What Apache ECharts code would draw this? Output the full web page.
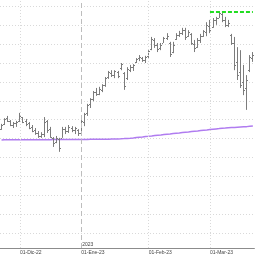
<!DOCTYPE html>
<html>
<head>
<meta charset="utf-8">
<script src="https://cdn.jsdelivr.net/npm/echarts@6/dist/echarts.min.js"></script>
<style>
  html, body { margin: 0; padding: 0; background: #fff; }
  #chart { width: 256px; height: 256px; }
</style>
</head>
<body>
<div id="chart"></div>
<script>
// trading days shown (category axis)
const dates = [
  "2022-11-23","2022-11-24","2022-11-25","2022-11-28","2022-11-29","2022-11-30",
  "2022-12-01","2022-12-02","2022-12-05","2022-12-06","2022-12-07","2022-12-09","2022-12-12","2022-12-13","2022-12-14","2022-12-15",
  "2022-12-16","2022-12-19","2022-12-20","2022-12-21","2022-12-22","2022-12-23","2022-12-27","2022-12-28","2022-12-29","2022-12-30",
  "2023-01-02","2023-01-03","2023-01-04","2023-01-05","2023-01-06","2023-01-09","2023-01-10","2023-01-11","2023-01-12","2023-01-13",
  "2023-01-16","2023-01-17","2023-01-18","2023-01-19","2023-01-20","2023-01-23","2023-01-24","2023-01-25","2023-01-26","2023-01-27",
  "2023-01-30","2023-01-31",
  "2023-02-01","2023-02-02","2023-02-03","2023-02-06","2023-02-07","2023-02-08","2023-02-09","2023-02-10","2023-02-13","2023-02-14",
  "2023-02-15","2023-02-16","2023-02-17","2023-02-20","2023-02-21","2023-02-22","2023-02-23","2023-02-24","2023-02-27","2023-02-28",
  "2023-03-01","2023-03-02","2023-03-03","2023-03-06","2023-03-07","2023-03-08","2023-03-09","2023-03-10","2023-03-13","2023-03-14",
  "2023-03-15","2023-03-16","2023-03-17","2023-03-20","2023-03-21"
];

const open = [
  0.975, 0.989, 1.004, 0.997, 0.986, 0.991, 0.997, 1.007, 0.997, 0.991,
  0.981, 0.973, 0.965, 0.957, 0.962, 0.997, 0.975, 0.952, 0.941, 0.949,
  0.952, 0.975, 0.970, 0.978, 0.973, 0.973, 0.965, 0.994, 1.018, 1.042,
  1.055, 1.073, 1.068, 1.079, 1.092, 1.113, 1.124, 1.118, 1.126, 1.137,
  1.124, 1.110, 1.131, 1.139, 1.153, 1.163, 1.163, 1.158, 1.169, 1.187,
  1.211, 1.198, 1.190, 1.203, 1.216, 1.203, 1.179, 1.214, 1.224, 1.229,
  1.237, 1.221, 1.227, 1.200, 1.192, 1.211, 1.221, 1.232, 1.248, 1.245,
  1.264, 1.269, 1.280, 1.264, 1.251, 1.224, 1.203, 1.153, 1.126, 1.100,
  1.084, 1.131, 1.163
];
const high = [
  0.989, 1.004, 1.010, 0.999, 0.994, 0.997, 1.018, 1.007, 1.002, 0.994,
  0.986, 0.978, 0.970, 0.967, 1.007, 0.999, 0.981, 0.954, 0.957, 0.952,
  0.981, 0.981, 0.986, 0.983, 0.981, 0.975, 0.999, 1.018, 1.042, 1.057,
  1.076, 1.084, 1.087, 1.094, 1.113, 1.129, 1.131, 1.131, 1.129, 1.150,
  1.126, 1.139, 1.145, 1.147, 1.163, 1.171, 1.166, 1.169, 1.184, 1.219,
  1.216, 1.203, 1.203, 1.219, 1.229, 1.206, 1.206, 1.229, 1.235, 1.243,
  1.243, 1.237, 1.229, 1.211, 1.216, 1.227, 1.237, 1.258, 1.264, 1.269,
  1.272, 1.285, 1.282, 1.272, 1.264, 1.227, 1.219, 1.192, 1.184, 1.145,
  1.118, 1.171, 1.179
];
const low = [
  0.973, 0.986, 0.994, 0.983, 0.978, 0.981, 0.994, 0.991, 0.983, 0.975,
  0.967, 0.960, 0.952, 0.952, 0.954, 0.965, 0.952, 0.928, 0.938, 0.915,
  0.952, 0.962, 0.965, 0.967, 0.962, 0.957, 0.962, 0.983, 1.010, 1.031,
  1.049, 1.063, 1.065, 1.073, 1.087, 1.108, 1.113, 1.110, 1.110, 1.131,
  1.079, 1.105, 1.126, 1.129, 1.150, 1.155, 1.153, 1.150, 1.163, 1.184,
  1.190, 1.179, 1.184, 1.203, 1.211, 1.166, 1.176, 1.211, 1.219, 1.224,
  1.211, 1.219, 1.198, 1.179, 1.190, 1.203, 1.219, 1.221, 1.229, 1.243,
  1.251, 1.269, 1.258, 1.245, 1.245, 1.198, 1.131, 1.105, 1.084, 1.065,
  1.026, 1.126, 1.153
];
const close = [
  0.986, 1.002, 0.997, 0.986, 0.991, 0.994, 1.010, 0.994, 0.989, 0.978,
  0.970, 0.965, 0.957, 0.962, 0.994, 0.973, 0.954, 0.938, 0.952, 0.925,
  0.975, 0.970, 0.981, 0.973, 0.978, 0.965, 0.997, 1.015, 1.039, 1.055,
  1.073, 1.068, 1.081, 1.092, 1.110, 1.126, 1.118, 1.129, 1.116, 1.147,
  1.089, 1.134, 1.139, 1.145, 1.161, 1.166, 1.158, 1.166, 1.182, 1.214,
  1.198, 1.187, 1.198, 1.216, 1.221, 1.174, 1.198, 1.224, 1.229, 1.237,
  1.219, 1.232, 1.203, 1.190, 1.211, 1.221, 1.235, 1.251, 1.237, 1.264,
  1.269, 1.282, 1.264, 1.251, 1.256, 1.203, 1.145, 1.118, 1.092, 1.079,
  1.105, 1.166, 1.171
];
// long moving average (purple)
const ma200 = [
  0.9466, 0.9467, 0.9467, 0.9468, 0.9468, 0.9469, 0.9469, 0.9470, 0.9470, 0.9470,
  0.9471, 0.9471, 0.9472, 0.9472, 0.9472, 0.9473, 0.9473, 0.9474, 0.9474, 0.9475,
  0.9475, 0.9476, 0.9476, 0.9477, 0.9477, 0.9478, 0.9478, 0.9479, 0.9479, 0.9480,
  0.9481, 0.9482, 0.9483, 0.9484, 0.9485, 0.9486, 0.9488, 0.9490, 0.9492, 0.9495,
  0.9500, 0.9506, 0.9511, 0.9519, 0.9529, 0.9537, 0.9545, 0.9556, 0.9563, 0.9571,
  0.9582, 0.9590, 0.9598, 0.9608, 0.9616, 0.9624, 0.9635, 0.9643, 0.9651, 0.9661,
  0.9669, 0.9677, 0.9688, 0.9696, 0.9704, 0.9714, 0.9722, 0.9730, 0.9741, 0.9749,
  0.9757, 0.9765, 0.9775, 0.9780, 0.9786, 0.9791, 0.9796, 0.9802, 0.9807, 0.9812,
  0.9817, 0.9825, 0.9833
];

// month markers on the time axis
const monthStarts = ["2022-12-01", "2023-01-02", "2023-02-01", "2023-03-01"];
const monthLabels = ["01-Dic-22", "01-Ene-23", "01-Feb-23", "01-Mar-23"];
const yearStart = "2023-01-02";
const yearLabel = "2023";
const maxLineFrom = "2023-03-01";

const Y_MIN = 0.6606;
const Y_MAX = 1.3167;

const COL_BAR = "#7c7c7c";
const COL_MA = "#b07cf0";
const COL_MAX = "#22dd22";
const COL_GRID = "#d9d9d9";
const FONT = "Liberation Sans";

const peak = Math.max(...high);

function renderOhlc(params, api) {
  const i = api.value(0);
  const pO = api.coord([i, api.value(1)]);
  const pH = api.coord([i, api.value(2)]);
  const pL = api.coord([i, api.value(3)]);
  const pC = api.coord([i, api.value(4)]);
  const x = Math.floor(pH[0]) + 0.5;
  const yo = Math.round(pO[1]) + 0.5;
  const yc = Math.round(pC[1]) + 0.5;
  const st = { stroke: COL_BAR, lineWidth: 1 };
  return {
    type: "group",
    children: [
      { type: "line", shape: { x1: x, y1: pH[1], x2: x, y2: pL[1] }, style: st },
      { type: "line", shape: { x1: x - 1.5, y1: yo, x2: x - 0.5, y2: yo }, style: st },
      { type: "line", shape: { x1: x + 0.5, y1: yc, x2: x + 1.5, y2: yc }, style: st }
    ]
  };
}

const isMonthStart = (idx, v) => monthStarts.includes(v);

const vLines = monthStarts.map(d => ({
  xAxis: d,
  lineStyle: d === yearStart
    ? { color: "#bdbdbd", type: [5, 3], width: 1 }
    : { color: COL_GRID, type: [1, 2], width: 1 }
}));

const maxLine = [
  { coord: [maxLineFrom, peak], lineStyle: { color: COL_MAX, type: [4, 2], width: 2 } },
  { coord: [dates[dates.length - 1], peak] }
];

const chart = echarts.init(document.getElementById("chart"), null, { renderer: "canvas" });

chart.setOption({
  animation: false,
  backgroundColor: "#fff",
  grid: { left: 0, right: 1.6, top: 0, bottom: 8 },
  xAxis: {
    type: "category",
    data: dates,
    boundaryGap: true,
    axisLine: { lineStyle: { color: "#8c8c8c", width: 1 } },
    axisTick: {
      alignWithLabel: true,
      interval: isMonthStart,
      length: 3,
      lineStyle: { color: "#8c8c8c" }
    },
    axisLabel: {
      interval: isMonthStart,
      formatter: v => monthLabels[monthStarts.indexOf(v)],
      align: "left",
      fontSize: 5,
      fontFamily: FONT,
      color: "#444",
      margin: 2
    },
    splitLine: { show: false }
  },
  yAxis: {
    type: "value",
    min: Y_MIN,
    max: Y_MAX,
    splitNumber: 13,
    axisLine: { show: false },
    axisTick: { show: false },
    axisLabel: { show: false },
    splitLine: {
      show: true,
      showMinLine: false,
      showMaxLine: false,
      lineStyle: { color: COL_GRID, type: [1, 2], width: 1 }
    }
  },
  series: [
    {
      name: "MM200",
      type: "line",
      data: ma200,
      showSymbol: false,
      silent: true,
      z: 1,
      lineStyle: { color: COL_MA, width: 1.5 },
      markLine: {
        silent: true,
        symbol: "none",
        label: { show: false },
        data: vLines.concat([maxLine])
      },
      markPoint: {
        silent: true,
        symbol: "circle",
        symbolSize: 0,
        data: [{ coord: [yearStart, Y_MIN] }],
        label: {
          show: true,
          formatter: yearLabel,
          position: "right",
          distance: 1,
          offset: [0, -3],
          fontSize: 5,
          fontFamily: FONT,
          color: "#444"
        }
      }
    },
    {
      name: "OHLC",
      type: "custom",
      z: 3,
      silent: true,
      renderItem: renderOhlc,
      encode: { x: 0, y: [1, 2, 3, 4] },
      data: dates.map((d, i) => [i, open[i], high[i], low[i], close[i]])
    }
  ]
});
</script>
</body>
</html>
